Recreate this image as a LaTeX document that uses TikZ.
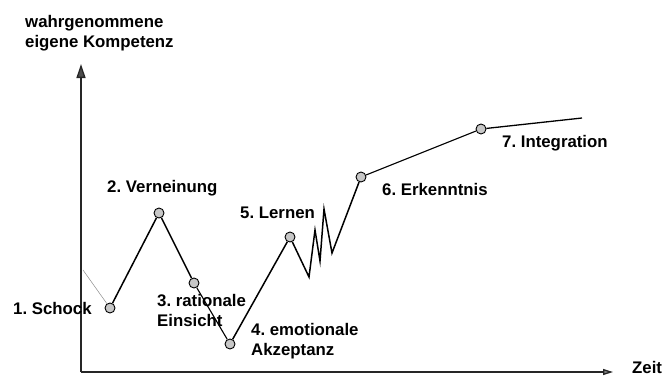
\documentclass[tikz,border=0pt]{standalone}
\usepackage{fontspec}
\setmainfont{Liberation Sans}
\usetikzlibrary{arrows.meta}
\frenchspacing
\tikzset{
  pt/.style={circle,draw=black,line width=0.9pt,fill=black!22,minimum size=10pt,inner sep=0pt},
  lbl/.style={anchor=west,inner sep=0pt,font=\fontsize{16.8}{20}\selectfont\bfseries\frenchspacing,align=left},
  curve/.style={line width=1.5pt,line join=miter},
  thincurve/.style={line width=1.1pt},
  axis/.style={line width=1.3pt,draw=black!85}
}
\begin{document}
\begin{tikzpicture}[x=1pt,y=-1pt]
\useasboundingbox (0,0) rectangle (663,376);
% axes
\coordinate (O) at (81,372);
\coordinate (ytip) at (81,64);
\coordinate (xtip) at (613,372);
\draw[axis,-{Triangle[length=14pt,width=9pt,fill=black!70]}] (O) -- (ytip);
\draw[axis,-{Triangle[length=10pt,width=6pt,fill=black!50]}] (O) -- (xtip);
% points
\node[pt] (p1) at (110,308) {};
\node[pt] (p2) at (159,213) {};
\node[pt] (p3) at (194,283) {};
\node[pt] (p4) at (230,344) {};
\node[pt] (p5) at (290,237) {};
\node[pt] (p6) at (361,177) {};
\node[pt] (p7) at (481,129) {};
\coordinate (z1) at (309,277);
\coordinate (z2) at (315,230);
\coordinate (z3) at (320,261);
\coordinate (z4) at (324,209);
\coordinate (z5) at (332,253);
\coordinate (end) at (582,118);
\coordinate (g) at (83,270);
% connectors
\draw[black!45,line width=0.5pt] (g) -- (p1);
\draw[curve] (p1) -- (p2);
\draw[curve] (p2) -- (p3);
\draw[thincurve] (p3) -- (p4);
\draw[curve] (p4) -- (p5);
\draw[curve] (p5) -- (z1) -- (z2) -- (z3) -- (z4) -- (z5) -- (p6);
\draw[thincurve] (p6) -- (p7);
\draw[line width=1.3pt] (p7) -- (end);
% labels
\node[lbl] (ylab) at (25,33) {wahrgenommene\\eigene Kompetenz};
\node[lbl] (l1) at (13,308) {1. Schock};
\node[lbl] (l2) at (107,188) {2. Verneinung};
\node[lbl] (l3) at (157,310) {3. rationale\\Einsicht};
\node[lbl] (l4) at (251,341) {4. emotionale\\Akzeptanz};
\node[lbl] (l5) at (240,213) {5. Lernen};
\node[lbl] (l6) at (382,189) {6. Erkenntnis};
\node[lbl] (l7) at (502,143) {7. Integration};
\node[lbl] (lx) at (632,367) {Zeit};
\end{tikzpicture}
\end{document}
